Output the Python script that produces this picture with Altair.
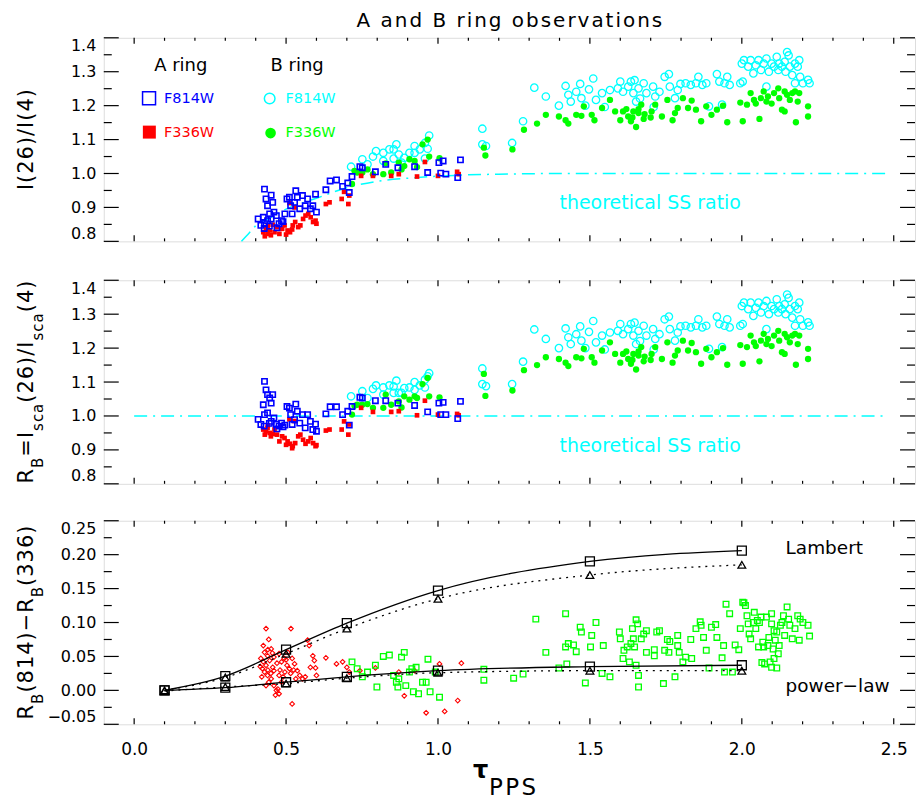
import altair as alt
import pandas as pd

FONT = "DejaVu Sans"
W, H = 813, 204
XDOM = [-0.1, 2.57]
DOM_TOP = [0.8, 1.4]
DOM_MID = [0.8, 1.4]
DOM_BOT = [-0.05, 0.25]

BLUE, RED, CYAN, GREEN = "#0000FF", "#FF0000", "#00FFFF", "#00FF00"

# ---- tick positions -------------------------------------------------------
X_MAJOR = [0.0, 0.5, 1.0, 1.5, 2.0, 2.5]
X_MINOR = [0.1, 0.2, 0.3, 0.4, 0.6, 0.7, 0.8, 0.9, 1.1, 1.2, 1.3, 1.4,
           1.6, 1.7, 1.8, 1.9, 2.1, 2.2, 2.3, 2.4]
RATIO_MAJOR = [0.8, 0.9, 1.0, 1.1, 1.2, 1.3, 1.4]
RATIO_MINOR = [0.85, 0.95, 1.05, 1.15, 1.25, 1.35]
DIFF_MAJOR = [-0.05, 0.0, 0.05, 0.10, 0.15, 0.20, 0.25]
DIFF_MINOR = [-0.025, 0.025, 0.075, 0.125, 0.175, 0.225]

# ---- A ring, F814W: tau, raw ratio I(26)/I(4), SS-corrected ratio R_B ----
a814_tau = [0.429, 0.434, 0.439, 0.446, 0.451, 0.456, 0.425, 0.429, 0.439, 0.451,
            0.460, 0.468, 0.477, 0.485, 0.496, 0.503, 0.511, 0.515, 0.520, 0.528,
            0.532, 0.537, 0.545, 0.554, 0.563, 0.571, 0.580, 0.588, 0.597, 0.600,
            0.408, 0.417, 0.428, 0.445, 0.470, 0.490,
            0.631, 0.645, 0.666, 0.686, 0.703, 0.708, 0.717, 0.743, 0.751, 0.794,
            0.828, 0.868, 0.923, 0.966, 1.003, 1.009, 1.017, 1.065, 1.074, 1.026]
a814_raw = [0.954, 0.925, 0.905, 0.881, 0.936, 0.915, 0.871, 0.852, 0.861, 0.866,
            0.886, 0.876, 0.852, 0.861, 0.881, 0.925, 0.930, 0.905, 0.881, 0.915,
            0.949, 0.930, 0.896, 0.935, 0.905, 0.925, 0.896, 0.905, 0.939, 0.886,
            0.866, 0.847, 0.838, 0.845, 0.840, 0.858,
            0.952, 0.978, 0.981, 0.962, 0.972, 0.944, 0.991, 1.020, 1.017, 1.005,
            1.027, 1.017, 1.020, 1.003, 1.032, 1.001, 1.037, 0.988, 1.040, 0.998]
a814_rb = [1.102, 1.077, 1.063, 1.053, 1.038, 1.063, 1.033, 1.004, 1.009, 0.984,
           0.994, 0.975, 0.970, 0.979, 0.973, 1.028, 1.023, 1.004, 0.975, 0.989,
           1.035, 1.014, 0.979, 1.004, 0.965, 1.004, 0.984, 0.960, 0.976, 0.955,
           0.990, 0.975, 0.970, 0.978, 0.962, 0.968,
           1.006, 1.027, 1.027, 1.004, 1.014, 0.973, 1.028, 1.055, 1.053, 1.045,
           1.045, 1.038, 1.031, 1.012, 1.038, 1.004, 1.040, 0.992, 1.043, 1.004]

# ---- A ring, F336W -------------------------------------------------------
a336_tau = [0.425, 0.434, 0.439, 0.446, 0.456, 0.462, 0.470, 0.478, 0.487, 0.495,
            0.505, 0.513, 0.522, 0.530, 0.540, 0.547, 0.556, 0.564, 0.573, 0.581,
            0.589, 0.597, 0.600, 0.528, 0.511, 0.430, 0.450, 0.440, 0.500, 0.520,
            0.631, 0.643, 0.683, 0.691, 0.705, 0.708, 0.747, 0.786, 0.846, 0.871,
            0.931, 0.957, 1.000, 1.063, 1.068]
a336_raw = [0.827, 0.837, 0.822, 0.832, 0.849, 0.827, 0.842, 0.822, 0.837, 0.847,
            0.832, 0.827, 0.847, 0.857, 0.842, 0.847, 0.866, 0.876, 0.881, 0.871,
            0.857, 0.861, 0.852, 0.900, 0.913, 0.815, 0.818, 0.845, 0.820, 0.835,
            0.910, 0.915, 0.925, 0.946, 0.910, 0.935, 0.993, 0.993, 0.993, 0.998,
            0.991, 1.034, 0.993, 1.005, 0.998]
a336_rb = [0.960, 0.955, 0.965, 0.950, 0.947, 0.960, 0.945, 0.925, 0.940, 0.935,
           0.925, 0.918, 0.911, 0.920, 0.940, 0.945, 0.930, 0.918, 0.925, 0.935,
           0.920, 0.911, 0.914, 0.985, 0.990, 0.945, 0.940, 0.972, 0.915, 0.905,
           0.957, 0.960, 0.960, 0.984, 0.945, 0.975, 1.024, 1.012, 1.012, 1.014,
           1.002, 1.045, 1.004, 1.006, 1.002]

# ---- B ring, F814W, tau < 1.35 (raw and corrected differ) ---------------
b814_lo_tau = [0.714, 0.751, 0.786, 0.820, 0.796, 0.854, 0.863, 0.871, 0.889, 0.906,
               0.923, 0.940, 0.957, 0.966, 0.971, 0.957, 0.880, 0.854, 0.820, 0.768,
               0.923, 0.840, 1.146, 1.146, 1.158, 1.244, 1.280, 1.317]
b814_lo_raw = [1.020, 1.042, 1.050, 1.061, 1.066, 1.071, 1.086, 1.056, 1.046, 1.061,
               1.061, 1.071, 1.090, 1.073, 1.112, 1.044, 1.032, 1.044, 1.037, 1.027,
               1.081, 1.071, 1.132, 1.086, 1.081, 1.090, 1.154, 1.253]
b814_lo_rb = [1.058, 1.073, 1.080, 1.084, 1.090, 1.087, 1.104, 1.068, 1.082, 1.084,
              1.077, 1.090, 1.107, 1.117, 1.126, 1.084, 1.068, 1.068, 1.063, 1.053,
              1.100, 1.090, 1.140, 1.094, 1.088, 1.094, 1.160, 1.255]

# ---- B ring, F814W, tau >= 1.35 (SS correction is unity here) -----------
b814_hi_tau = [1.355, 1.398, 1.420, 1.429, 1.437, 1.455, 1.468, 1.472, 1.485, 1.497,
               1.511, 1.520, 1.540, 1.549, 1.566, 1.592, 1.600, 1.609, 1.626, 1.635,
               1.643, 1.647, 1.652, 1.660, 1.677, 1.686, 1.708, 1.715, 1.729, 1.746,
               1.760, 1.763, 1.780, 1.789, 1.798, 1.815, 1.832, 1.849, 1.857, 1.870,
               1.883, 1.892, 1.918, 1.926, 1.935, 1.943, 1.952, 1.960, 1.995, 2.000,
               2.007, 2.021, 2.029, 2.038, 2.046, 2.055, 2.063, 2.072, 2.081, 2.089,
               2.098, 2.106, 2.115, 2.120, 2.123, 2.132, 2.141, 2.144, 2.149, 2.154,
               2.158, 2.166, 2.175, 2.184, 2.189, 2.192, 2.201, 2.218, 2.223, 2.003,
               2.081, 2.175, 1.665, 1.710]
b814_hi_ratio = [1.227, 1.200, 1.258, 1.232, 1.212, 1.241, 1.264, 1.222, 1.200, 1.248,
                 1.280, 1.217, 1.237, 1.196, 1.246, 1.251, 1.271, 1.241, 1.256, 1.271,
                 1.237, 1.275, 1.212, 1.251, 1.266, 1.237, 1.256, 1.227, 1.241, 1.285,
                 1.293, 1.256, 1.222, 1.246, 1.264, 1.266, 1.261, 1.266, 1.285, 1.261,
                 1.266, 1.198, 1.293, 1.271, 1.203, 1.266, 1.285, 1.261, 1.266, 1.324,
                 1.334, 1.315, 1.334, 1.295, 1.319, 1.334, 1.305, 1.324, 1.339, 1.300,
                 1.324, 1.315, 1.344, 1.305, 1.324, 1.315, 1.329, 1.300, 1.358, 1.348,
                 1.315, 1.290, 1.324, 1.315, 1.334, 1.285, 1.266, 1.276, 1.266, 1.271,
                 1.256, 1.266, 1.221, 1.196]

# ---- B ring, F336W ------------------------------------------------------
b336_lo_tau = [0.717, 0.725, 0.734, 0.751, 0.768, 0.786, 0.820, 0.828, 0.846, 0.871,
               0.880, 0.889, 0.906, 0.923, 0.931, 0.949, 0.966, 0.971, 1.005, 1.151,
               1.156, 1.245, 1.283, 1.326]
b336_lo_raw = [0.969, 1.008, 1.003, 1.003, 1.012, 0.998, 0.998, 1.030, 1.003, 1.032,
               1.012, 1.022, 1.042, 1.037, 1.019, 1.086, 1.100, 1.050, 1.045, 1.076,
               1.053, 1.071, 1.129, 1.147]
b336_lo_rb = [1.004, 1.030, 1.033, 1.033, 1.035, 1.024, 1.024, 1.063, 1.033, 1.043,
              1.025, 1.058, 1.048, 1.058, 1.053, 1.094, 1.112, 1.058, 1.055, 1.124,
              1.059, 1.075, 1.135, 1.150]
b336_hi_tau = [1.355, 1.398, 1.420, 1.429, 1.455, 1.472, 1.480, 1.506, 1.515, 1.540,
               1.566, 1.583, 1.600, 1.609, 1.626, 1.635, 1.643, 1.652, 1.660, 1.669,
               1.677, 1.703, 1.715, 1.737, 1.755, 1.772, 1.780, 1.789, 1.806, 1.823,
               1.835, 1.849, 1.866, 1.883, 1.900, 1.918, 1.938, 1.952, 1.995, 2.003,
               2.017, 2.029, 2.046, 2.058, 2.063, 2.072, 2.086, 2.098, 2.106, 2.120,
               2.123, 2.132, 2.141, 2.149, 2.158, 2.166, 2.175, 2.184, 2.189, 2.178,
               2.218, 2.218, 2.141, 2.040, 2.081, 1.620, 1.640, 1.660, 1.680, 1.700]
b336_hi_ratio = [1.173, 1.168, 1.157, 1.147, 1.173, 1.170, 1.198, 1.173, 1.157, 1.193,
                 1.217, 1.183, 1.157, 1.183, 1.168, 1.154, 1.183, 1.137, 1.178, 1.203,
                 1.161, 1.183, 1.203, 1.168, 1.217, 1.157, 1.178, 1.193, 1.222, 1.193,
                 1.215, 1.188, 1.154, 1.198, 1.173, 1.188, 1.200, 1.151, 1.209, 1.154,
                 1.203, 1.237, 1.206, 1.161, 1.222, 1.242, 1.227, 1.206, 1.237, 1.251,
                 1.222, 1.188, 1.242, 1.232, 1.217, 1.237, 1.242, 1.212, 1.237, 1.151,
                 1.198, 1.168, 1.183, 1.217, 1.212, 1.190, 1.165, 1.190, 1.175, 1.165]

# ---- theoretical single-scattering ratio --------------------------------
ss_tau = [0.353, 0.38, 0.40, 0.45, 0.50, 0.60, 0.70, 0.80, 0.90, 1.00, 1.10, 1.20, 1.40, 2.48]
ss_ratio = [0.800, 0.826, 0.846, 0.870, 0.895, 0.927, 0.958, 0.977, 0.986, 0.992,
            0.996, 0.998, 1.000, 1.000]
ss_unit_tau = [0.0, 2.48]
ss_unit = [1.0, 1.0]

# ---- R_B(814) - R_B(336) -------------------------------------------------
dA_tau = [0.434, 0.516, 0.443, 0.425, 0.451, 0.429, 0.439, 0.417, 0.425, 0.434,
          0.446, 0.456, 0.422, 0.429, 0.439, 0.451, 0.460, 0.468, 0.477, 0.465,
          0.473, 0.520, 0.485, 0.494, 0.503, 0.511, 0.520, 0.528, 0.537, 0.545,
          0.554, 0.563, 0.571, 0.576, 0.580, 0.588, 0.593, 0.597, 0.600, 0.477,
          0.485, 0.496, 0.460, 0.443, 0.434, 0.460, 0.477, 0.506, 0.532, 0.631,
          0.666, 0.686, 0.700, 0.708, 0.743, 0.794, 0.871, 0.923, 0.961, 1.005,
          1.022, 1.065, 1.077, 0.889, 0.440, 0.450, 0.470, 0.480, 0.490, 0.500,
          0.515, 0.525, 0.440, 0.455, 0.415, 0.420]
dA_val = [0.091, 0.091, 0.075, 0.066, 0.061, 0.056, 0.051, 0.047, 0.042, 0.037,
          0.044, 0.034, 0.032, 0.027, 0.022, 0.017, 0.007, 0.000, -0.005, -0.007,
          0.002, -0.020, 0.042, 0.047, 0.037, 0.032, 0.047, 0.039, 0.029, 0.022,
          0.017, 0.020, 0.074, 0.066, 0.034, 0.051, 0.044, 0.033, 0.022, 0.022,
          0.012, 0.027, 0.029, 0.012, 0.007, 0.049, 0.054, 0.056, 0.017, 0.048,
          0.039, 0.042, 0.034, 0.027, 0.029, 0.033, 0.027, 0.029, -0.033, 0.039,
          -0.031, -0.015, 0.040, -0.008, 0.030, 0.025, 0.040, 0.030, 0.020, 0.045,
          0.025, 0.030, 0.060, 0.055, 0.035, 0.020]
dB_tau = [0.717, 0.734, 0.751, 0.768, 0.794, 0.799, 0.820, 0.840, 0.854, 0.863,
          0.868, 0.871, 0.880, 0.889, 0.894, 0.906, 0.914, 0.919, 0.928, 0.936,
          0.949, 0.961, 0.967, 0.974, 1.005, 0.991, 1.151, 1.151, 1.249, 1.280,
          1.322, 1.355, 1.398, 1.420, 1.424, 1.420, 1.429, 1.446, 1.455, 1.468,
          1.472, 1.485, 1.502, 1.506, 1.520, 1.540, 1.544, 1.566, 1.597, 1.600,
          1.609, 1.612, 1.623, 1.630, 1.635, 1.640, 1.643, 1.647, 1.652, 1.652,
          1.657, 1.660, 1.660, 1.669, 1.677, 1.686, 1.686, 1.712, 1.712, 1.720,
          1.729, 1.742, 1.746, 1.755, 1.760, 1.763, 1.780, 1.789, 1.789, 1.794,
          1.806, 1.815, 1.832, 1.835, 1.849, 1.863, 1.866, 1.874, 1.883, 1.892,
          1.900, 1.914, 1.918, 1.935, 1.940, 1.943, 1.948, 1.960, 1.969, 1.978,
          1.990, 1.995, 2.003, 2.007, 2.012, 2.017, 2.021, 2.024, 2.029, 2.038,
          2.041, 2.046, 2.051, 2.055, 2.058, 2.063, 2.069, 2.072, 2.075, 2.081,
          2.086, 2.089, 2.093, 2.098, 2.098, 2.103, 2.106, 2.106, 2.110, 2.115,
          2.115, 2.120, 2.123, 2.127, 2.132, 2.137, 2.141, 2.149, 2.154, 2.158,
          2.166, 2.175, 2.184, 2.189, 2.192, 2.201, 2.218, 2.223, 2.066, 2.098]
dB_val = [0.042, 0.032, 0.020, 0.027, 0.037, 0.005, 0.050, 0.052, 0.022, 0.012,
          0.005, 0.017, 0.049, 0.056, 0.007, 0.027, 0.032, -0.002, 0.034, -0.005,
          0.012, 0.012, 0.046, -0.002, -0.010, 0.027, 0.015, 0.031, 0.018, 0.024,
          0.105, 0.056, 0.033, 0.113, 0.039, 0.064, 0.069, 0.067, 0.057, 0.093,
          0.086, 0.011, 0.064, 0.081, 0.100, 0.025, 0.066, 0.020, 0.086, 0.076,
          0.047, 0.059, 0.064, 0.042, 0.069, 0.091, 0.076, 0.064, 0.104, 0.037,
          0.098, 0.022, 0.005, 0.076, 0.083, 0.088, 0.056, 0.060, 0.051, 0.086,
          0.088, 0.010, 0.059, 0.075, 0.056, 0.072, 0.020, 0.081, 0.066, 0.056,
          0.042, 0.049, 0.075, 0.047, 0.091, 0.101, 0.096, 0.078, 0.059, 0.033,
          0.093, 0.097, 0.078, 0.048, 0.066, 0.027, 0.127, 0.113, 0.027, 0.067,
          0.060, 0.091, 0.130, 0.129, 0.125, 0.110, 0.098, 0.083, 0.076, 0.100,
          0.115, 0.091, 0.103, 0.064, 0.100, 0.108, 0.071, 0.064, 0.039, 0.108,
          0.066, 0.078, 0.042, 0.113, 0.098, 0.061, 0.088, 0.047, 0.074, 0.086,
          0.033, 0.054, 0.066, 0.096, 0.100, 0.110, 0.081, 0.123, 0.105, 0.096,
          0.076, 0.091, 0.110, 0.074, 0.105, 0.100, 0.096, 0.080, 0.041, 0.034]

# ---- model predictions ----------------------------------------------------
model_tau = [0.1, 0.3, 0.5, 0.7, 1.0, 1.5, 2.0]
lambert_sq = [0.000, 0.021, 0.060, 0.099, 0.147, 0.190, 0.206]
lambert_tri = [0.000, 0.019, 0.054, 0.091, 0.135, 0.170, 0.185]
powlaw_sq = [0.000, 0.004, 0.012, 0.020, 0.029, 0.035, 0.037]
powlaw_tri = [-0.001, 0.005, 0.010, 0.018, 0.026, 0.029, 0.029]

# DejaVu Sans advance widths (em), used to space the hand-set titles
ADV = {' ': 0.318, '(': 0.390, ')': 0.390, '/': 0.337, '=': 0.838, '\u2212': 0.838,
       '0': 0.636, '1': 0.636, '2': 0.636, '3': 0.636, '4': 0.636, '5': 0.636,
       '6': 0.636, '7': 0.636, '8': 0.636, '9': 0.636,
       'A': 0.684, 'B': 0.686, 'I': 0.295, 'P': 0.603, 'R': 0.695, 'S': 0.635,
       'a': 0.613, 'b': 0.635, 'c': 0.550, 'd': 0.635, 'e': 0.615, 'g': 0.635,
       'i': 0.278, 'n': 0.634, 'o': 0.612, 'r': 0.411, 's': 0.521, 't': 0.392,
       'v': 0.592, '\u03c4': 0.568}


def y_axis(values, fmt):
    return alt.Axis(values=values, format=fmt, labelFlush=True, ticks=False, tickSize=0,
                    domain=False, grid=False, labelPadding=8, labelFontSize=16,
                    labelFont=FONT, labelColor="black", title=None)


X_AXIS = alt.Axis(values=X_MAJOR, format=".1f", labelFlush=False, ticks=False, tickSize=0,
                  domain=False, grid=False, labelPadding=17, labelFontSize=17,
                  labelFont=FONT, labelColor="black", title=None)

# every layer of a panel carries the same axis definitions so they merge cleanly
P_TOP = dict(dom=DOM_TOP, yax=y_axis(RATIO_MAJOR, ".1f"), xax=None)
P_MID = dict(dom=DOM_MID, yax=y_axis(RATIO_MAJOR, ".1f"), xax=None)
P_BOT = dict(dom=DOM_BOT, yax=y_axis(DIFF_MAJOR, ".2f"), xax=X_AXIS)


def xy(P, xf="tau", yf="val"):
    return dict(x=alt.X(f"{xf}:Q", scale=alt.Scale(domain=XDOM, nice=False, zero=False), axis=P["xax"]),
                y=alt.Y(f"{yf}:Q", scale=alt.Scale(domain=P["dom"], nice=False, zero=False), axis=P["yax"]))


def px_to_tau(px):
    return XDOM[0] + px / W * (XDOM[1] - XDOM[0])


def py_to_val(py, dom):
    return dom[1] - py / H * (dom[1] - dom[0])


def frame_ticks(P, ymaj, ymin):
    """Inward IDL-style ticks on all four sides."""
    layers = []
    rule = dict(color="black", strokeWidth=1.2)
    for vals, ln in ((ymaj, 15), (ymin, 8)):
        df = pd.DataFrame({"v": vals})
        y = xy(P, yf="v")["y"]
        layers.append(alt.Chart(df).mark_rule(**rule).encode(y=y, x=alt.value(0), x2=alt.value(ln)))
        layers.append(alt.Chart(df).mark_rule(**rule).encode(y=y, x=alt.value(W), x2=alt.value(W - ln)))
    for vals, ln in ((X_MAJOR, 6), (X_MINOR, 3)):
        df = pd.DataFrame({"v": vals})
        x = xy(P, xf="v")["x"]
        layers.append(alt.Chart(df).mark_rule(**rule).encode(x=x, y=alt.value(H), y2=alt.value(H - ln)))
        layers.append(alt.Chart(df).mark_rule(**rule).encode(x=x, y=alt.value(0), y2=alt.value(ln)))
    return layers


def scatter(tau, val, P, shape, size, color, filled, sw=1.3):
    df = pd.DataFrame({"tau": tau, "val": val})
    return alt.Chart(df).mark_point(shape=shape, size=size, filled=filled, color=color,
                                    strokeWidth=sw, opacity=1).encode(**xy(P))


def curve(tau, val, P, color, dash=None, width=1.3, interp="monotone"):
    df = pd.DataFrame({"tau": tau, "val": val})
    kw = dict(color=color, strokeWidth=width, interpolate=interp)
    if dash:
        kw["strokeDash"] = dash
    return alt.Chart(df).mark_line(**kw).encode(**xy(P))


def notes(rows, P, fs):
    df = pd.DataFrame(rows, columns=["tau", "val", "txt", "col"])
    return alt.Chart(df).mark_text(align="left", baseline="middle", font=FONT, fontSize=fs).encode(
        **xy(P), text="txt:N", color=alt.Color("col:N", scale=None, legend=None))


def char_run(segments, track):
    glyphs, pos = [], 0.0
    for text, fs, sub in segments:
        for ch in text:
            if ch != " ":
                glyphs.append((ch, fs, pos, sub))
            pos += ADV[ch] * fs + track
    return glyphs, pos - track


def rotated_title(segments, P, track=1.0, base_main=-71, base_sub=-61):
    glyphs, total = char_run(segments, track)
    start = H / 2 + total / 2
    rows = [dict(ch=ch, fs=fs, tau=px_to_tau(base_sub if sub else base_main),
                 val=py_to_val(start - off, P["dom"])) for ch, fs, off, sub in glyphs]
    return alt.Chart(pd.DataFrame(rows)).mark_text(
        angle=270, align="left", baseline="alphabetic", font=FONT, color="black").encode(
        **xy(P), text="ch:N", size=alt.Size("fs:Q", scale=None, legend=None))


def flat_text(segments, P, start_px, base_py, track, weight="normal", center=False):
    glyphs, total = char_run(segments, track)
    if center:
        start_px = start_px - total / 2
    rows = [dict(ch=ch, fs=fs, tau=px_to_tau(start_px + off), val=py_to_val(base_py, P["dom"]))
            for ch, fs, off, sub in glyphs]
    return alt.Chart(pd.DataFrame(rows)).mark_text(
        align="left", baseline="alphabetic", font=FONT, color="black", fontWeight=weight).encode(
        **xy(P), text="ch:N", size=alt.Size("fs:Q", scale=None, legend=None))


# ---------------- top panel: raw ratio ------------------------------------
P = P_TOP
top_layers = frame_ticks(P, RATIO_MAJOR, RATIO_MINOR) + [
    curve(ss_tau, ss_ratio, P, CYAN, dash=[13, 6, 2, 6], width=1.5),
    scatter(b814_lo_tau + b814_hi_tau, b814_lo_raw + b814_hi_ratio, P, "circle", 55, CYAN, False, 1.3),
    scatter(b336_lo_tau + b336_hi_tau, b336_lo_raw + b336_hi_ratio, P, "circle", 40, GREEN, True),
    scatter(a336_tau, a336_raw, P, "square", 22, RED, True),
    scatter(a814_tau, a814_raw, P, "square", 28, BLUE, False, 1.6),
    # legend
    scatter([0.049], [1.222], P, "square", 169, BLUE, False, 1.5),
    scatter([0.050], [1.122], P, "square", 169, RED, True),
    scatter([0.446], [1.221], P, "circle", 113, CYAN, False, 1.5),
    scatter([0.449], [1.119], P, "circle", 113, GREEN, True),
    notes([(0.066, 1.318, "A ring", "black"), (0.449, 1.318, "B ring", "black")], P, 18),
    notes([(0.098, 1.220, "F814W", BLUE), (0.098, 1.120, "F336W", RED),
           (0.498, 1.220, "F814W", CYAN), (0.498, 1.120, "F336W", GREEN)], P, 14.5),
    notes([(1.40, 0.913, "theoretical SS ratio", CYAN)], P, 19),
    rotated_title([("I(26)/I(4)", 21, False)], P),
    flat_text([("A and B ring observations", 20, False)], P, W / 2, -10.5, 2.0, center=True),
]
top = alt.layer(*top_layers).properties(width=W, height=H)

# ---------------- middle panel: SS-corrected ratio -------------------------
P = P_MID
mid_layers = frame_ticks(P, RATIO_MAJOR, RATIO_MINOR) + [
    curve(ss_unit_tau, ss_unit, P, CYAN, dash=[13, 6, 2, 6], width=1.5, interp="linear"),
    scatter(b814_lo_tau + b814_hi_tau, b814_lo_rb + b814_hi_ratio, P, "circle", 55, CYAN, False, 1.3),
    scatter(b336_lo_tau + b336_hi_tau, b336_lo_rb + b336_hi_ratio, P, "circle", 40, GREEN, True),
    scatter(a336_tau, a336_rb, P, "square", 22, RED, True),
    scatter(a814_tau, a814_rb, P, "square", 28, BLUE, False, 1.6),
    notes([(1.40, 0.911, "theoretical SS ratio", CYAN)], P, 19),
    rotated_title([("R", 21, False), ("B", 15, True), ("=I", 21, False), ("sca", 15, True),
                   ("(26)/I", 21, False), ("sca", 15, True), ("(4)", 21, False)], P),
]
mid = alt.layer(*mid_layers).properties(width=W, height=H)

# ---------------- bottom panel: colour difference --------------------------
P = P_BOT
bot_layers = frame_ticks(P, DIFF_MAJOR, DIFF_MINOR) + [
    scatter(dA_tau, dA_val, P, "diamond", 22, RED, False, 1.1),
    scatter(dB_tau, dB_val, P, "square", 32, GREEN, False, 1.3),
    curve(model_tau, lambert_sq, P, "black"),
    curve(model_tau, lambert_tri, P, "black", dash=[2, 5]),
    curve(model_tau, powlaw_sq, P, "black"),
    curve(model_tau, powlaw_tri, P, "black", dash=[2, 5]),
    scatter(model_tau, lambert_sq, P, "square", 81, "black", False, 1.3),
    scatter(model_tau, lambert_tri, P, "triangle-up", 60, "black", False, 1.3),
    scatter(model_tau, powlaw_sq, P, "square", 81, "black", False, 1.3),
    scatter(model_tau, powlaw_tri, P, "triangle-up", 60, "black", False, 1.3),
    notes([(2.144, 0.210, "Lambert", "black"), (2.144, 0.007, "power\u2212law", "black")], P, 18.5),
    rotated_title([("R", 21, False), ("B", 15, True), ("(814)\u2212R", 21, False), ("B", 15, True),
                   ("(336)", 21, False)], P),
    flat_text([("\u03c4", 24, False)], P, 370, 258, 0, weight="bold"),
    flat_text([("PPS", 23, False)], P, 386, 275, 2.5),
]
bot = alt.layer(*bot_layers).properties(width=W, height=H)

chart = alt.vconcat(top, mid, bot, spacing=33).properties(
    padding={"left": 15, "top": 10, "right": 0, "bottom": 0},
    background="white",
).configure_view(stroke="black", strokeWidth=1.5).configure(font=FONT)

chart.save("out.html", embed_options={"renderer": "svg", "actions": False})
